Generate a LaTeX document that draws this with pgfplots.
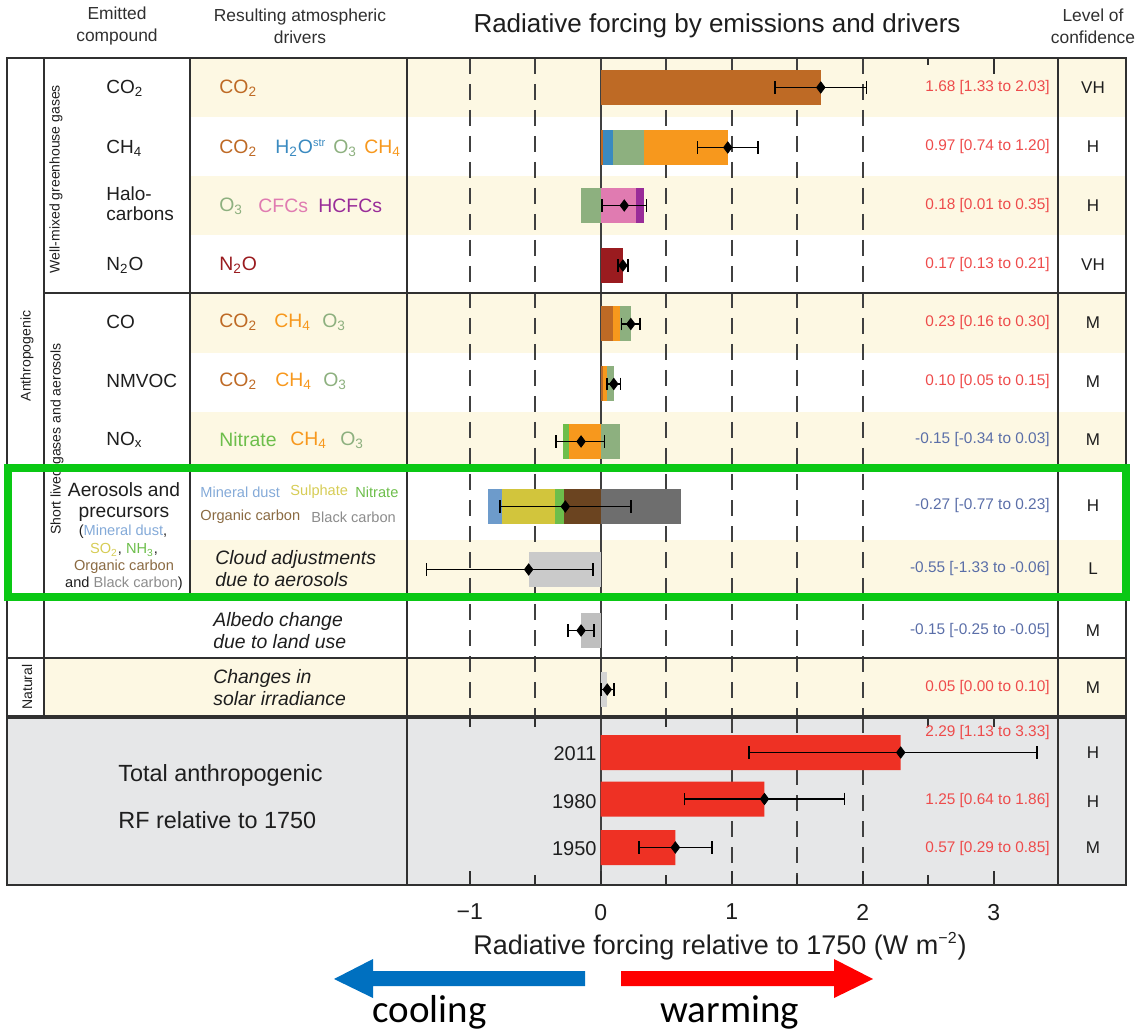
\documentclass[border=0pt]{standalone}
\usepackage{pgfplots}
\pgfplotsset{compat=1.18}
\usepackage{fontspec}
\setmainfont{Liberation Sans}
\newfontfamily\calibri{Carlito}

\newcommand\fs[1]{\fontsize{#1}{#1}\selectfont}

\definecolor{band}{HTML}{FDF8E3}
\definecolor{totbg}{HTML}{E6E7E8}
\definecolor{cCOtwo}{HTML}{BE6A25}
\definecolor{cHtwoO}{HTML}{3A8AC0}
\definecolor{cOthree}{HTML}{8DB07F}
\definecolor{cCHfour}{HTML}{F7981D}
\definecolor{cCFC}{HTML}{E07BB1}
\definecolor{cHCFC}{HTML}{992C99}
\definecolor{cNtwoO}{HTML}{9A1B1F}
\definecolor{cNitrate}{HTML}{6DBE4B}
\definecolor{cDust}{HTML}{6D9BCB}
\definecolor{cSulph}{HTML}{D2C53C}
\definecolor{cOC}{HTML}{6B4420}
\definecolor{cBC}{HTML}{6E6E6E}
\definecolor{cCloud}{HTML}{CACACA}
\definecolor{cAlbedo}{HTML}{BFBFBF}
\definecolor{cSolar}{HTML}{D4D4D4}
\definecolor{cTotal}{HTML}{EE3124}
\definecolor{valpos}{HTML}{EE4B4B}
\definecolor{valneg}{HTML}{5A6EA8}
\definecolor{hiGreen}{HTML}{0AC814}
\definecolor{gridc}{HTML}{404040}
\definecolor{linec}{HTML}{303030}
\definecolor{txt}{HTML}{1E1E1E}
\definecolor{coolblue}{HTML}{0070C0}
\definecolor{tDust}{HTML}{84AAD8}
\definecolor{tSulph}{HTML}{D6CC55}
\definecolor{tOC}{HTML}{8A6A42}
\definecolor{tBC}{HTML}{8C8C8C}

\pgfplotsset{seg/.style={xbar, bar width=35, bar shift=0pt, draw=none, fill=#1}}

\begin{document}
\begin{tikzpicture}[x=0.5pt,y=-0.5pt]
\useasboundingbox (0,0) rectangle (1139,1031);

% row bands and the total panel
\fill[band] (190,58) rectangle (1126,117);
\fill[band] (190,176) rectangle (1126,235);
\fill[band] (190,293) rectangle (1126,353);
\fill[band] (190,412) rectangle (1126,470);
\fill[band] (190,540) rectangle (1126,600);
\fill[band] (44,658) rectangle (1126,717);
\fill[totbg] (7,717) rectangle (1126,885);

% dashed grid
\draw[gridc, line width=1pt, dash pattern=on 8pt off 5pt]
  foreach \g in {469.7,535.2,666.2,731.7,797.2,862.7} {(\g,58) -- (\g,717)};
\draw[gridc, line width=1pt, dash pattern=on 8pt off 5pt]
  foreach \g in {731.7,797.2,862.7} {(\g,717) -- (\g,885)};
\draw[gridc, line width=1pt] (600.7,58) -- (600.7,885);

\begin{scope}[x=1cm,y=1cm]
\begin{axis}[
  at={(203.5pt,-29pt)}, anchor=north west,
  scale only axis, width=325.5pt, height=413.5pt,
  xmin=-1.4786, xmax=3.4908, ymin=-885, ymax=-58,
  axis line style={linec, line width=1pt},
  ytick=\empty,
  xtick={-1,0,1,2,3}, xticklabels={−1,0,1,2,3},
  major tick length=0pt,
  xticklabel style={font=\fs{11.5}, text=txt, yshift=-6pt},
  clip=false,
]
% CO2
\addplot[seg=cCOtwo] coordinates {(1.68,-87.5)};
% CH4
\addplot[seg=cCHfour] coordinates {(0.97,-147.5)};
\addplot[seg=cOthree] coordinates {(0.33,-147.5)};
\addplot[seg=cHtwoO] coordinates {(0.09,-147.5)};
\addplot[seg=cCOtwo] coordinates {(0.02,-147.5)};
% Halocarbons
\addplot[seg=cHCFC] coordinates {(0.33,-205.5)};
\addplot[seg=cCFC] coordinates {(0.27,-205.5)};
\addplot[seg=cOthree] coordinates {(-0.15,-205.5)};
% N2O
\addplot[seg=cNtwoO] coordinates {(0.17,-265.5)};
% CO
\addplot[seg=cOthree] coordinates {(0.23,-324)};
\addplot[seg=cCHfour] coordinates {(0.15,-324)};
\addplot[seg=cCOtwo] coordinates {(0.09,-324)};
% NMVOC
\addplot[seg=cOthree] coordinates {(0.10,-384)};
\addplot[seg=cCHfour] coordinates {(0.05,-384)};
\addplot[seg=cCOtwo] coordinates {(0.02,-384)};
% NOx
\addplot[seg=cOthree] coordinates {(0.15,-441.5)};
\addplot[seg=cNitrate] coordinates {(-0.29,-441.5)};
\addplot[seg=cCHfour] coordinates {(-0.24,-441.5)};
% aerosols and precursors
\addplot[seg=cBC] coordinates {(0.61,-506.5)};
\addplot[seg=cDust] coordinates {(-0.86,-506.5)};
\addplot[seg=cSulph] coordinates {(-0.75,-506.5)};
\addplot[seg=cNitrate] coordinates {(-0.35,-506.5)};
\addplot[seg=cOC] coordinates {(-0.28,-506.5)};
% cloud adjustments, albedo, solar
\addplot[seg=cCloud] coordinates {(-0.55,-569.5)};
\addplot[seg=cAlbedo] coordinates {(-0.15,-630.5)};
\addplot[seg=cSolar] coordinates {(0.05,-689.5)};
% total anthropogenic
\addplot[seg=cTotal] coordinates {(2.29,-752.5) (1.25,-799) (0.57,-847.5)};
% best estimates and ranges
\addplot[only marks, mark=diamond*, mark size=2.8pt, black,
  error bars/.cd, x dir=both, x explicit, error mark=|,
  error bar style={line width=0.8pt, black},
  error mark options={black, mark size=3.2pt, line width=0.8pt}]
coordinates {
 (1.68,-87.5) += (0.35,0) -= (0.35,0)
 (0.97,-147.5) += (0.23,0) -= (0.23,0)
 (0.18,-205.5) += (0.17,0) -= (0.17,0)
 (0.17,-265.5) += (0.04,0) -= (0.04,0)
 (0.23,-324) += (0.07,0) -= (0.07,0)
 (0.10,-384) += (0.05,0) -= (0.05,0)
 (-0.15,-441.5) += (0.18,0) -= (0.19,0)
 (-0.27,-506.5) += (0.50,0) -= (0.50,0)
 (-0.55,-569.5) += (0.49,0) -= (0.78,0)
 (-0.15,-630.5) += (0.10,0) -= (0.10,0)
 (0.05,-689.5) += (0.05,0) -= (0.05,0)
 (2.29,-752.5) += (1.04,0) -= (1.16,0)
 (1.25,-799) += (0.61,0) -= (0.61,0)
 (0.57,-847.5) += (0.28,0) -= (0.28,0)
};
\end{axis}
\end{scope}

% table lines
\draw[linec, line width=1pt] (7,58) rectangle (1126,885);
\draw[linec, line width=1pt] (44,58) -- (44,717);
\draw[linec, line width=1pt] (190,58) -- (190,600);
\draw[linec, line width=1pt] (44,293) -- (1126,293);
\draw[linec, line width=1pt] (44,600) -- (1126,600);
\draw[linec, line width=1pt] (7,658) -- (1126,658);
\draw[linec, line width=1.8pt] (7,717) -- (1126,717);

% tick marks on the top and bottom frame
\draw[linec, line width=1pt] (928.2,58) -- (928.2,65) (993.7,58) -- (993.7,74);
\draw[linec, line width=1pt]
  foreach \g in {469.7,600.7,731.7,862.7,993.7} {(\g,885) -- (\g,871)}
  foreach \g in {535.2,666.2,797.2,928.2} {(\g,885) -- (\g,875)};
\draw[linec, line width=1pt]
  foreach \g in {469.7,535.2,666.2,928.2,993.7} {(\g,717) -- (\g,727)};

% headers
\begin{scope}[every node/.style={inner sep=0pt, text=txt}]
\node[align=center, font=\fontsize{8.7}{11}\selectfont, text=linec] at (117,26) {Emitted\\compound};
\node[align=center, font=\fontsize{8.7}{11}\selectfont, text=linec] at (300,26) {Resulting atmospheric\\drivers};
\node[align=center, font=\fontsize{8.7}{11}\selectfont, text=linec] at (1093,26) {Level of\\confidence};
\node[font=\fs{13}] at (717,26) {Radiative forcing by emissions and drivers};

% group labels
\node[rotate=90, font=\fs{7}] at (27,356) {Anthropogenic};
\node[rotate=90, font=\fs{7}] at (56,179) {Well-mixed greenhouse gases};
\node[rotate=90, font=\fs{7}] at (57,439) {Short lived gases and aerosols};
\node[rotate=90, font=\fs{7}] at (27,687) {Natural};

% emitted compounds
\begin{scope}[every node/.append style={anchor=west, font=\fs{9.5}}]
\node at (106,88) {CO\textsubscript{2}};
\node at (106,148) {CH\textsubscript{4}};
\node[align=left, font=\fontsize{9.5}{10}\selectfont] at (106,204) {Halo-\\carbons};
\node at (106,265) {N\textsubscript{2}O};
\node at (106,322) {CO};
\node at (106,381) {NMVOC};
\node at (106,440) {NO\textsubscript{x}};
\end{scope}
\node[font=\fs{9.6}] at (124,490) {Aerosols and};
\node[font=\fs{9.6}] at (124,514) {precursors};
\node[font=\fs{7.3}] at (123,532) {(\textcolor{tDust}{Mineral dust},};
\node[font=\fs{7.3}] at (124,550) {\textcolor{tSulph}{SO\textsubscript{2}}, \textcolor{cNitrate}{NH\textsubscript{3}},};
\node[font=\fs{7.3}, text=tOC] at (124,567) {Organic carbon};
\node[font=\fs{7.3}] at (124,584) {and \textcolor{tBC}{Black carbon})};

% resulting atmospheric drivers
\begin{scope}[every node/.append style={anchor=west, font=\fs{9.7}}]
\node[text=cCOtwo] at (219,88) {CO\textsubscript{2}};
\node[text=cCOtwo] at (219,148) {CO\textsubscript{2}};
\node[text=cHtwoO] at (275,148) {H\textsubscript{2}O\textsuperscript{\fs{5.5}str}};
\node[text=cOthree] at (333,148) {O\textsubscript{3}};
\node[text=cCHfour] at (364,148) {CH\textsubscript{4}};
\node[text=cOthree] at (219,206) {O\textsubscript{3}};
\node[text=cCFC] at (258,206) {CFCs};
\node[text=cHCFC] at (318,206) {HCFCs};
\node[text=cNtwoO] at (219,265) {N\textsubscript{2}O};
\node[text=cCOtwo] at (219,322) {CO\textsubscript{2}};
\node[text=cCHfour] at (274,322) {CH\textsubscript{4}};
\node[text=cOthree] at (322,322) {O\textsubscript{3}};
\node[text=cCOtwo] at (219,381) {CO\textsubscript{2}};
\node[text=cCHfour] at (275,381) {CH\textsubscript{4}};
\node[text=cOthree] at (323,381) {O\textsubscript{3}};
\node[text=cNitrate] at (219,440) {Nitrate};
\node[text=cCHfour] at (290,440) {CH\textsubscript{4}};
\node[text=cOthree] at (340,440) {O\textsubscript{3}};
\end{scope}
\begin{scope}[every node/.append style={anchor=west, font=\fs{7.3}}]
\node[text=tDust] at (200,492) {Mineral dust};
\node[text=tSulph] at (290,492) {Sulphate};
\node[text=cNitrate] at (355,492) {Nitrate};
\node[text=tOC] at (200,517) {Organic carbon};
\node[text=tBC] at (311,517) {Black carbon};
\end{scope}
\begin{scope}[every node/.append style={anchor=west, align=left, font=\fontsize{9.7}{11}\selectfont\itshape}]
\node at (215,569) {Cloud adjustments\\due to aerosols};
\node at (213,631) {Albedo change\\due to land use};
\node at (213,688) {Changes in\\solar irradiance};
\end{scope}

% values
\begin{scope}[every node/.append style={anchor=east, font=\fs{7.7}}]
\node[text=valpos] at (1050,88) {1.68 [1.33 to 2.03]};
\node[text=valpos] at (1050,147) {0.97 [0.74 to 1.20]};
\node[text=valpos] at (1050,206) {0.18 [0.01 to 0.35]};
\node[text=valpos] at (1050,265) {0.17 [0.13 to 0.21]};
\node[text=valpos] at (1050,323) {0.23 [0.16 to 0.30]};
\node[text=valpos] at (1050,382) {0.10 [0.05 to 0.15]};
\node[text=valneg] at (1050,440) {-0.15 [-0.34 to 0.03]};
\node[text=valneg] at (1050,506) {-0.27 [-0.77 to 0.23]};
\node[text=valneg] at (1050,569) {-0.55 [-1.33 to -0.06]};
\node[text=valneg] at (1050,631) {-0.15 [-0.25 to -0.05]};
\node[text=valpos] at (1050,688) {0.05 [0.00 to 0.10]};
\node[text=valpos] at (1050,733) {2.29 [1.13 to 3.33]};
\node[text=valpos] at (1050,801) {1.25 [0.64 to 1.86]};
\node[text=valpos] at (1050,849) {0.57 [0.29 to 0.85]};
\end{scope}

% confidence
\begin{scope}[every node/.append style={font=\fs{8.5}}]
\node at (1093,88) {VH};
\node at (1093,147) {H};
\node at (1093,206) {H};
\node at (1093,265) {VH};
\node at (1093,323) {M};
\node at (1093,382) {M};
\node at (1093,440) {M};
\node at (1093,506) {H};
\node at (1093,569) {L};
\node at (1093,631) {M};
\node at (1093,688) {M};
\node at (1093,753) {H};
\node at (1093,802) {H};
\node at (1093,848) {M};
\end{scope}

% total panel
\node[anchor=west, font=\fs{11.7}] at (118,775) {Total anthropogenic};
\node[anchor=west, font=\fs{11.7}] at (118,820) {RF relative to 1750};
\node[anchor=east, font=\fs{10}] at (597,754) {2011};
\node[anchor=east, font=\fs{10}] at (597,802) {1980};
\node[anchor=east, font=\fs{10}] at (597,849) {1950};

% axis title
\node[font=\fs{13.5}] at (720,946) {Radiative forcing relative to 1750 (W m\textsuperscript{\fs{8}−2})};
\end{scope}

% highlight box
\draw[hiGreen, line width=4pt] (8,468) rectangle (1126,597);

% cooling / warming arrows
\fill[coolblue] (585,971) -- (373,971) -- (373,959) -- (334,979) -- (373,998) -- (373,986) -- (585,986) -- cycle;
\fill[red] (621,971) -- (834,971) -- (834,959) -- (873,979) -- (834,998) -- (834,986) -- (621,986) -- cycle;
\node[anchor=base west, inner sep=0pt, font=\calibri\fs{19.5}] at (372,1022) {cooling};
\node[anchor=base west, inner sep=0pt, font=\calibri\fs{19.5}] at (660,1022) {warming};
\end{tikzpicture}
\end{document}
